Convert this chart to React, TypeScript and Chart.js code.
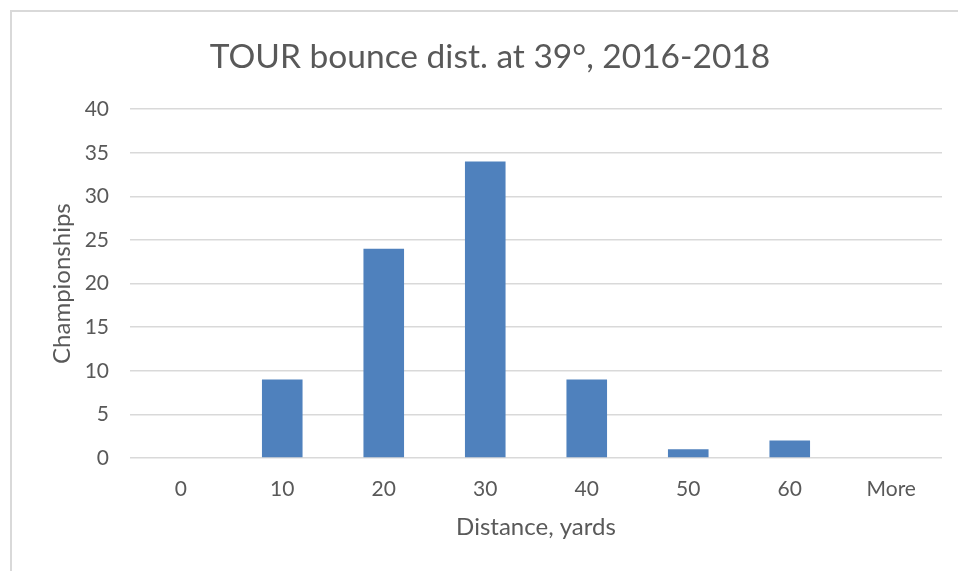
import React, { useEffect, useRef } from "react";
import { Chart, registerables } from "chart.js";

Chart.register(...registerables);

const categories = ["0", "10", "20", "30", "40", "50", "60", "More"];
const championships = [0, 9, 24, 34, 9, 1, 2, 0];
const yTicks = [0, 5, 10, 15, 20, 25, 30, 35, 40];

const titleText = "TOUR bounce dist. at 39°, 2016-2018";
const xTitle = "Distance, yards";
const yTitle = "Championships";

const FONT = "Lato, 'Open Sans', sans-serif";
const TEXT = "#595959";
const GRID = "#D9D9D9";
const BAR = "#4F81BD";

const framePlugin = {
  id: "frame",
  beforeDraw(chart: any) {
    const ctx = chart.ctx;
    ctx.save();
    ctx.fillStyle = "#ffffff";
    ctx.fillRect(0, 0, chart.width, chart.height);
    ctx.strokeStyle = GRID;
    ctx.lineWidth = 2;
    ctx.beginPath();
    ctx.moveTo(11, chart.height);
    ctx.lineTo(11, 11);
    ctx.lineTo(chart.width, 11);
    ctx.stroke();
    ctx.restore();
  },
};

export default function App() {
  const ref = useRef<HTMLCanvasElement>(null);
  useEffect(() => {
    if (!ref.current) return;
    const chart = new Chart(ref.current, {
      type: "bar",
      data: {
        labels: categories,
        datasets: [
          {
            label: yTitle,
            data: championships,
            backgroundColor: BAR,
            borderWidth: 0,
            barPercentage: 0.4,
            categoryPercentage: 1,
          },
        ],
      },
      options: {
        responsive: false,
        animation: false,
        devicePixelRatio: 1,
        layout: { padding: { left: 38, right: 16, top: 0, bottom: 0 } },
        plugins: {
          legend: { display: false },
          tooltip: { enabled: false },
          title: {
            display: true,
            text: titleText,
            color: TEXT,
            font: { family: FONT, size: 33.5, weight: "normal", lineHeight: 1.2 },
            padding: { top: 37, bottom: 32 },
          },
        },
        scales: {
          x: {
            grid: { display: false, drawTicks: false },
            border: { display: false },
            ticks: {
              color: TEXT,
              font: { family: FONT, size: 21 },
              padding: 19,
              maxRotation: 0,
            },
            title: {
              display: true,
              text: xTitle,
              color: TEXT,
              font: { family: FONT, size: 24, lineHeight: 1.2 },
              padding: { top: 0, bottom: 29.6 },
            },
            afterFit(scale: any) {
              scale.height = 113;
            },
          },
          y: {
            min: 0,
            max: 40,
            afterBuildTicks(scale: any) {
              scale.ticks = yTicks.map((v) => ({ value: v }));
            },
            grid: { color: GRID, lineWidth: 1.5, drawTicks: false },
            border: { display: false },
            ticks: {
              color: TEXT,
              font: { family: FONT, size: 21 },
              padding: 21,
            },
            title: {
              display: true,
              text: yTitle,
              color: TEXT,
              font: { family: FONT, size: 24, lineHeight: 1.2 },
              padding: { top: 9.6, bottom: 0 },
            },
            afterFit(scale: any) {
              scale.width = 92;
            },
          },
        },
      },
      plugins: [framePlugin],
    });
    return () => chart.destroy();
  }, []);
  return (
    <div style={{ position: "fixed", left: 0, top: 0, width: 958, height: 571, background: "#fff" }}>
      <canvas ref={ref} width={958} height={571} style={{ width: 958, height: 571, display: "block" }} />
    </div>
  );
}
